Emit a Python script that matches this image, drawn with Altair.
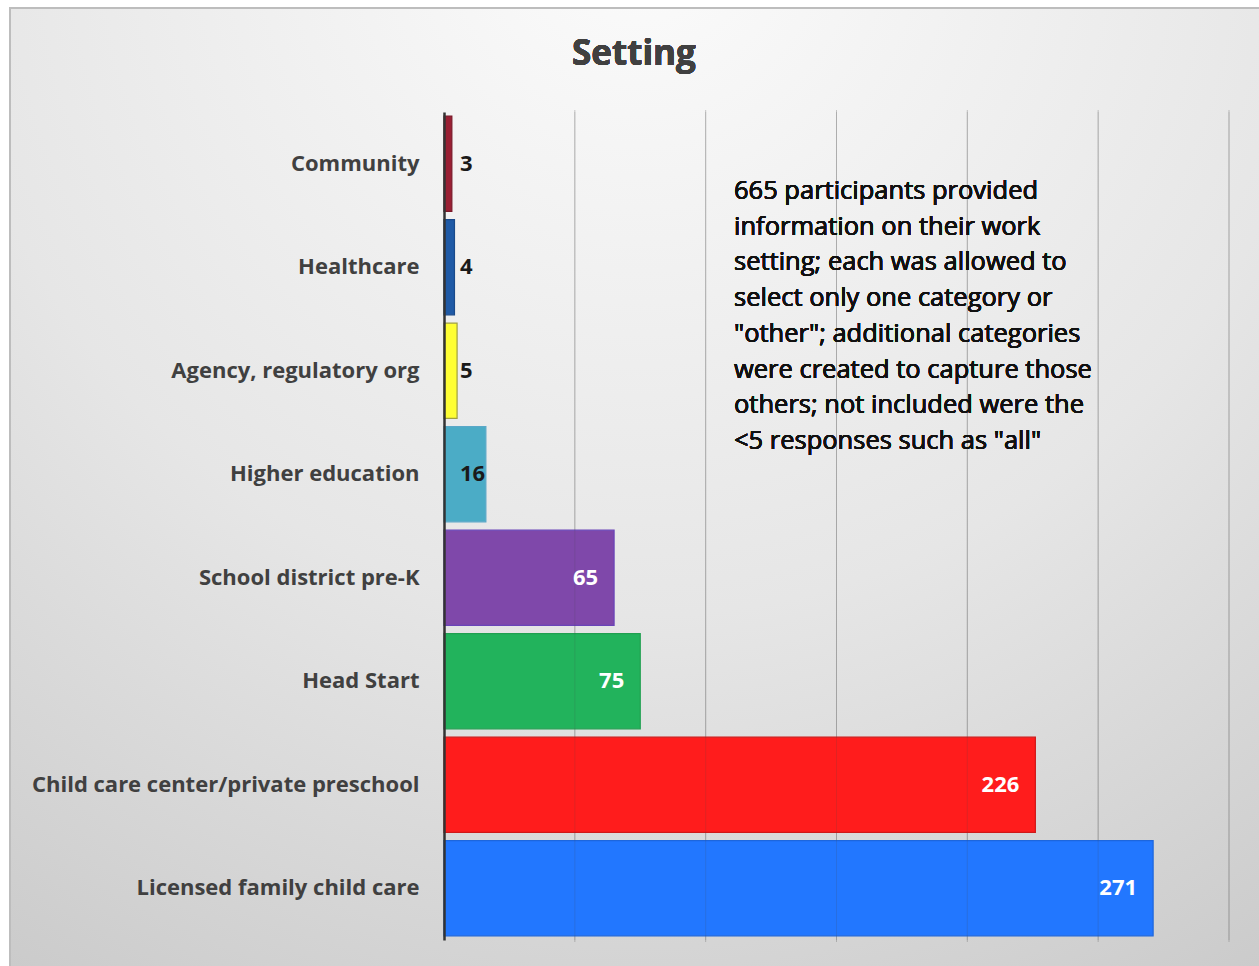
import altair as alt
import pandas as pd

categories = [
    "Community",
    "Healthcare",
    "Agency, regulatory org",
    "Higher education",
    "School district pre-K",
    "Head Start",
    "Child care center/private preschool",
    "Licensed family child care",
]
counts = [3, 4, 5, 16, 65, 75, 226, 271]
bar_colors = ["#9a1f33", "#1f5aa6", "#ffff33", "#4bacc6", "#7f48aa", "#22b35c", "#ff1c1c", "#2277ff"]
bar_strokes = ["#7a1828", "#1a4a8a", "#a0a040", "#5aa8c8", "#6a44b8", "#20a050", "#d01818", "#1d66dd"]
grid_values = [0, 50, 100, 150, 200, 250, 300]
note_lines = [
    "665 participants provided",
    "information on their work",
    "setting; each was allowed to",
    "select only one category or",
    "\"other\"; additional categories",
    "were created to capture those",
    "others; not included were the",
    "<5 responses such as \"all\"",
]
title_text = "Setting"

df = pd.DataFrame({"cat": categories, "n": counts})
df["big"] = df["n"] >= 40
grid_df = pd.DataFrame({"g": grid_values[1:]})

FONT = "Open Sans"
W, H = 785, 828

xscale = alt.Scale(domain=[0, 300], nice=False, zero=True)
yscale = alt.Scale(domain=categories, paddingInner=0.08, paddingOuter=0.04)

bg = alt.Chart(df).mark_rect(
    fill={
        "gradient": "radial",
        "x1": 0.5, "y1": 0.05, "r1": 0.0,
        "x2": 0.5, "y2": 0.05, "r2": 1.0,
        "stops": [
            {"offset": 0.0, "color": "#fcfcfc"},
            {"offset": 0.55, "color": "#e6e6e6"},
            {"offset": 1.0, "color": "#c9c9c9"},
        ],
    },
    stroke="#bdbdbd",
    strokeWidth=2,
).encode(
    x=alt.value(-434), x2=alt.value(820),
    y=alt.value(-104), y2=alt.value(860),
)

grid_under = alt.Chart(grid_df).mark_rule(color="#5a5a5a", opacity=0.32, strokeWidth=1).encode(
    x=alt.X("g:Q", scale=xscale),
    y=alt.value(-2), y2=alt.value(H + 2),
)

bars = alt.Chart(df).mark_bar(strokeWidth=1.2).encode(
    y=alt.Y("cat:N", scale=yscale, sort=categories,
            axis=alt.Axis(title=None, labelFont=FONT, labelFontWeight="bold",
                          labelFontSize=22, labelColor="#404040", labelPadding=25,
                          ticks=False, domain=True, domainColor="#333333",
                          domainWidth=2.5, grid=False, labelLimit=500, zindex=2)),
    x=alt.X("n:Q", scale=xscale,
            axis=alt.Axis(title=None, labels=False, ticks=False, domain=False,
                          grid=False)),
    fill=alt.Fill("cat:N", scale=alt.Scale(domain=categories, range=bar_colors), legend=None),
    stroke=alt.Stroke("cat:N", scale=alt.Scale(domain=categories, range=bar_strokes), legend=None),
)

grid_over = alt.Chart(grid_df).mark_rule(color="#444444", opacity=0.16, strokeWidth=1).encode(
    x=alt.X("g:Q", scale=xscale),
    y=alt.value(0), y2=alt.value(H),
)

lab_big = alt.Chart(df).transform_filter("datum.big").mark_text(
    align="right", baseline="middle", dx=-16, font=FONT, fontWeight="bold",
    fontSize=22, color="#ffffff",
).encode(
    y=alt.Y("cat:N", scale=yscale, sort=categories),
    x=alt.X("n:Q", scale=xscale),
    text="n:Q",
)

lab_small = alt.Chart(df).transform_filter("!datum.big").mark_text(
    align="left", baseline="middle", dx=16, font=FONT, fontWeight="bold",
    fontSize=22, color="#1a1a1a",
).encode(
    y=alt.Y("cat:N", scale=yscale, sort=categories),
    x=alt.value(0),
    text="n:Q",
)

note = alt.Chart(df).mark_text(
    text=note_lines, align="left", baseline="top", font=FONT, fontSize=25.5,
    lineHeight=35.7, color="#111111",
).encode(x=alt.value(290), y=alt.value(67))

title = alt.Chart(df).mark_text(
    text=title_text, align="center", baseline="middle", font=FONT, fontSize=35,
    fontWeight="bold", color="#404040",
).encode(x=alt.value(190), y=alt.value(-58))

chart = alt.layer(bg, grid_under, bars, grid_over, lab_big, lab_small, note, title).properties(
    width=W, height=H,
    autosize=alt.AutoSizeParams(type="none"),
    padding={"left": 444, "top": 112, "right": 30, "bottom": 26},
    background="#ffffff",
).configure_view(strokeWidth=0)

chart.save("out.html", embed_options={"renderer": "svg", "actions": False})
